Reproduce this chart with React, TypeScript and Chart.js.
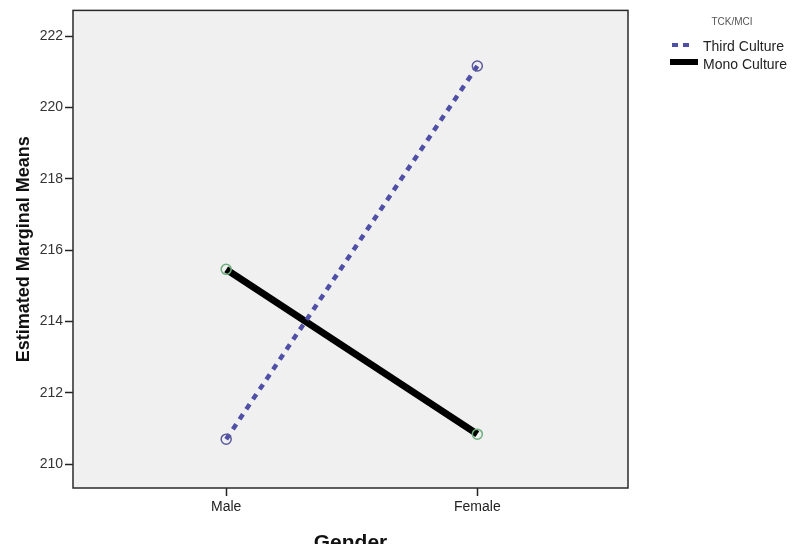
import React, { useEffect, useRef } from "react";
import { Chart, registerables } from "chart.js";

Chart.register(...registerables);

const categories = ["Male", "Female"];
const yTickValues = [210, 212, 214, 216, 218, 220, 222];
const seriesNames = ["Third Culture", "Mono Culture"];
const thirdCulture = [210.7, 221.16];
const monoCulture = [215.46, 210.84];
const legendTitle = "TCK/MCI";
const xTitle = "Gender";
const yTitle = "Estimated Marginal Means";

const FONT = "'Liberation Sans', Arial, sans-serif";
const THIRD_COLOR = "#4f4fa8";
const MONO_COLOR = "#000000";

export default function App() {
  const ref = useRef<HTMLCanvasElement | null>(null);

  useEffect(() => {
    if (!ref.current) return;

    const bgPlugin = {
      id: "plotBox",
      beforeDraw(chart: any) {
        const { ctx, chartArea } = chart;
        ctx.save();
        ctx.fillStyle = "#f0f0f0";
        ctx.fillRect(chartArea.left, chartArea.top, chartArea.right - chartArea.left, chartArea.bottom - chartArea.top);
        ctx.restore();
      },
      afterDraw(chart: any) {
        const { ctx, chartArea } = chart;
        ctx.save();
        ctx.strokeStyle = "#2a2a2a";
        ctx.lineWidth = 1.5;
        ctx.strokeRect(chartArea.left, chartArea.top, chartArea.right - chartArea.left, chartArea.bottom - chartArea.top);

        // legend
        const x0 = chartArea.right + 43;
        ctx.fillStyle = "#555";
        ctx.font = `10px ${FONT}`;
        ctx.textAlign = "center";
        ctx.textBaseline = "middle";
        ctx.fillText(legendTitle, 732, 22);

        ctx.textAlign = "left";
        ctx.font = `14px ${FONT}`;
        ctx.fillStyle = "#222";
        // Third culture
        ctx.beginPath();
        ctx.strokeStyle = THIRD_COLOR;
        ctx.lineWidth = 4;
        ctx.setLineDash([6, 5]);
        ctx.moveTo(x0 + 1, 45);
        ctx.lineTo(x0 + 23, 45);
        ctx.stroke();
        ctx.setLineDash([]);
        ctx.fillText(seriesNames[0], 703, 47);
        // Mono culture
        ctx.beginPath();
        ctx.strokeStyle = MONO_COLOR;
        ctx.lineWidth = 6;
        ctx.moveTo(x0 - 1, 62);
        ctx.lineTo(x0 + 27, 62);
        ctx.stroke();
        ctx.fillText(seriesNames[1], 703, 65);
        ctx.restore();
      },
    };

    const chart = new Chart(ref.current, {
      type: "line",
      data: {
        datasets: [
          {
            label: seriesNames[0],
            data: thirdCulture.map((y, i) => ({ x: i, y })),
            borderColor: THIRD_COLOR,
            borderWidth: 4.5,
            borderDash: [6, 6],
            pointRadius: 5,
            pointBorderWidth: 1.5,
            pointBorderColor: "#5a5a9a",
            pointBackgroundColor: "rgba(0,0,0,0)",
            fill: false,
          },
          {
            label: seriesNames[1],
            data: monoCulture.map((y, i) => ({ x: i, y })),
            borderColor: MONO_COLOR,
            borderWidth: 7,
            pointRadius: 5,
            pointBorderWidth: 1.5,
            pointBorderColor: "#6cae7c",
            pointBackgroundColor: "rgba(0,0,0,0)",
            fill: false,
          },
        ],
      },
      options: {
        animation: false,
        responsive: false,
        devicePixelRatio: 1,
        layout: { padding: { left: 0, top: 7, right: 165, bottom: 0 } },
        plugins: {
          legend: { display: false },
          tooltip: { enabled: false },
        },
        scales: {
          x: {
            type: "linear",
            min: -0.61,
            max: 1.6,
            afterBuildTicks: (scale: any) => {
              scale.ticks = categories.map((_, i) => ({ value: i }));
            },
            afterFit: (scale: any) => {
              scale.height = 82;
            },
            ticks: {
              autoSkip: false,
              maxRotation: 0,
              padding: 3,
              color: "#222",
              font: { family: FONT, size: 14 },
              callback: (v: any) => categories[v as number] ?? "",
            },
            grid: { drawOnChartArea: false, drawTicks: true, tickLength: 8, tickColor: "#222", tickWidth: 1.5 },
            border: { display: false },
            title: {
              display: true,
              text: xTitle,
              color: "#111",
              font: { family: FONT, size: 21, weight: "bold" },
              padding: { top: 0, bottom: 14 },
            },
          },
          y: {
            type: "linear",
            min: 209.33,
            max: 222.72,
            afterBuildTicks: (scale: any) => {
              scale.ticks = yTickValues.map((v) => ({ value: v }));
            },
            afterFit: (scale: any) => {
              scale.width = 73;
            },
            ticks: {
              padding: 2,
              color: "#333",
              font: { family: FONT, size: 14 },
              callback: (v: any) => String(v),
            },
            grid: { drawOnChartArea: false, drawTicks: true, tickLength: 8, tickColor: "#222", tickWidth: 1.5 },
            border: { display: false },
            title: {
              display: true,
              text: yTitle,
              color: "#111",
              font: { family: FONT, size: 18, weight: "bold" },
              padding: { top: 13, bottom: 0 },
            },
          },
        },
      },
      plugins: [bgPlugin],
    } as any);

    return () => chart.destroy();
  }, []);

  return (
    <div style={{ position: "absolute", left: 0, top: 0, width: 793, height: 544, overflow: "hidden", background: "#fff" }}>
      <canvas ref={ref} width={793} height={570} style={{ display: "block", width: 793, height: 570 }} />
    </div>
  );
}
